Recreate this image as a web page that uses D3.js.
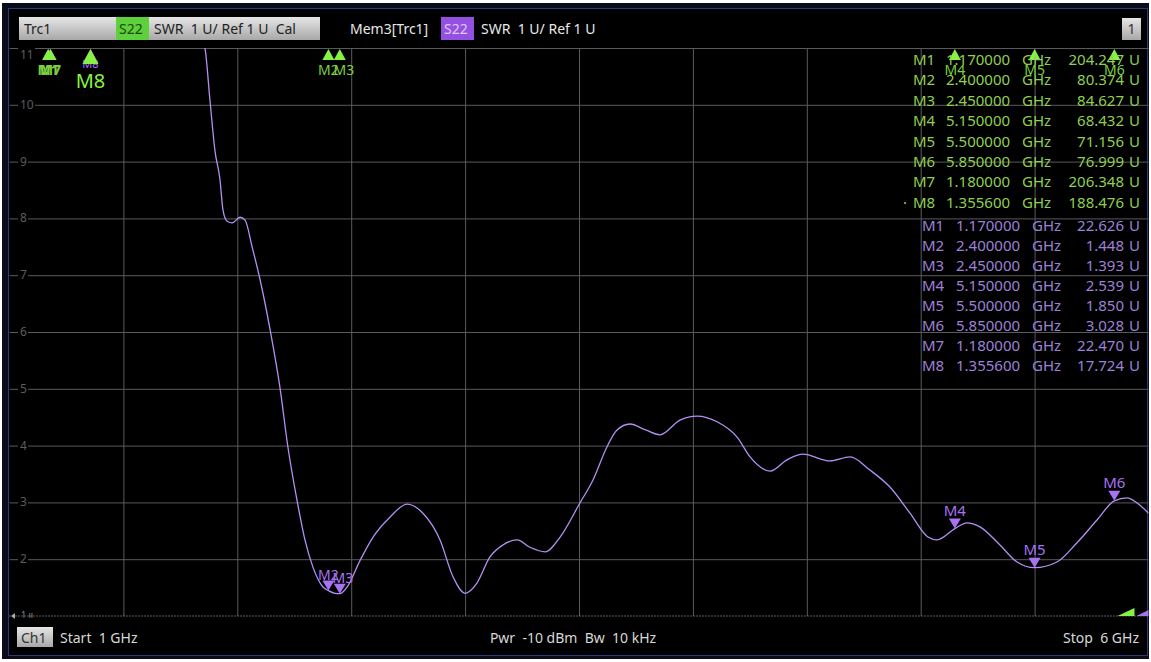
<!DOCTYPE html>
<html>
<head>
<meta charset="utf-8">
<script src="https://cdn.jsdelivr.net/npm/d3@7"></script>
<style>
body{margin:0;background:#fff;}
svg{display:block;font-family:"Noto Sans",sans-serif;}
</style>
</head>
<body>
<script>
var w = 1151, h = 662;

// Mem3[Trc1] trace, frequency in GHz and SWR in U
var freq = [1.000,1.100,1.170,1.180,1.250,1.356,1.450,1.550,1.650,1.750,1.858,1.880,1.902,1.924,1.937,1.955,1.977,2.012,2.034,2.065,2.100,2.144,2.187,2.222,2.262,2.297,2.332,2.376,2.400,2.429,2.450,2.482,2.539,2.596,2.670,2.745,2.815,2.890,2.947,3.000,3.052,3.109,3.166,3.228,3.285,3.351,3.417,3.504,3.561,3.623,3.666,3.724,3.790,3.856,3.943,4.018,4.106,4.194,4.251,4.339,4.413,4.483,4.602,4.690,4.777,4.865,4.953,5.032,5.072,5.150,5.203,5.260,5.348,5.423,5.500,5.598,5.686,5.774,5.850,5.906,5.950,6.000];
var swr = [23.5,23.2,22.63,22.47,20.5,17.72,16.0,14.5,13.3,12.1,11.0,10.08,9.19,8.68,8.15,7.95,7.92,8.02,7.97,7.50,6.92,6.04,5.03,3.98,3.04,2.34,1.86,1.51,1.448,1.40,1.393,1.51,1.98,2.39,2.74,2.97,2.81,2.34,1.69,1.40,1.58,2.04,2.25,2.34,2.21,2.13,2.39,2.99,3.39,3.98,4.27,4.38,4.28,4.19,4.45,4.52,4.42,4.15,3.80,3.55,3.75,3.85,3.73,3.80,3.57,3.27,2.81,2.39,2.34,2.539,2.64,2.57,2.25,1.95,1.850,1.95,2.29,2.69,3.028,3.08,2.99,2.81];

// marker table
var markerNames = ["M1","M2","M3","M4","M5","M6","M7","M8"];
var markerFreq = [1.17,2.4,2.45,5.15,5.5,5.85,1.18,1.3556];
var trcValues = ["204.247","80.374","84.627","68.432","71.156","76.999","206.348","188.476"];
var memValues = ["22.626","1.448","1.393","2.539","1.850","3.028","22.470","17.724"];

var yTicks = [2,3,4,5,6,7,8,9,10,11];
var xTicks = [1.5,2,2.5,3,3.5,4,4.5,5,5.5];

var green = "#8fcf52", greenMark = "#86f246", purple = "#9d80d8", purpleMark = "#a673f2";

window.onload = function(){

    var svg = d3.select("body").append("svg")
        .attr("width", w)
        .attr("height", h);

    var defs = svg.append("defs");
    var gray = defs.append("linearGradient").attr("id", "gray").attr("x1",0).attr("y1",0).attr("x2",0).attr("y2",1);
    gray.append("stop").attr("offset","0%").attr("stop-color","#e6e6e6");
    gray.append("stop").attr("offset","100%").attr("stop-color","#a8a8a8");

    // frame
    svg.append("rect").attr("x",2).attr("y",3).attr("width",1147).attr("height",656).style("fill","#0a0c1c");
    svg.append("rect").attr("x",8.5).attr("y",8.5).attr("width",1139).attr("height",647)
        .style("fill","#000").style("stroke","#2c3a7a");

    var x = d3.scaleLinear().domain([1,6]).range([9.5,1148.5]);
    var y = d3.scaleLinear().domain([1,11]).range([616,48]);

    defs.append("clipPath").attr("id","plot").append("rect")
        .attr("x", x(1)).attr("y", y(11)).attr("width", x(6)-x(1)).attr("height", y(1)-y(11));

    // header
    var head = svg.append("g").attr("class","header").style("font-size","14px");
    head.append("rect").attr("x",19).attr("y",17).attr("width",301).attr("height",23).style("fill","url(#gray)");
    head.append("text").attr("x",24).attr("y",34).style("fill","#222").text("Trc1");
    head.append("rect").attr("x",116).attr("y",17).attr("width",33).attr("height",23).style("fill","#5ed03c");
    head.append("text").attr("x",119).attr("y",34).style("fill","#1a4a10").text("S22");
    head.append("text").attr("x",154).attr("y",34).style("fill","#222").attr("xml:space","preserve").text("SWR  1 U/ Ref 1 U  Cal");
    head.append("text").attr("x",350).attr("y",34).style("fill","#e8e8e8").text("Mem3[Trc1]");
    head.append("rect").attr("x",441).attr("y",17).attr("width",33).attr("height",23).style("fill","#9450e0");
    head.append("text").attr("x",444).attr("y",34).style("fill","#e0c8ff").text("S22");
    head.append("text").attr("x",481).attr("y",34).style("fill","#e8e8e8").attr("xml:space","preserve").text("SWR  1 U/ Ref 1 U");
    head.append("rect").attr("x",1122).attr("y",18).attr("width",19).attr("height",22).style("fill","url(#gray)");
    head.append("text").attr("x",1131.5).attr("y",34).attr("text-anchor","middle").style("fill","#333").text("1");

    // grid
    var grid = svg.append("g").attr("class","grid");
    grid.append("g")
        .attr("transform","translate(" + x(1) + ",0)")
        .call(d3.axisLeft(y).tickValues(yTicks).tickSize(-(x(6)-x(1))).tickFormat(""))
        .call(function(g){ g.select(".domain").remove(); });
    grid.append("g")
        .attr("transform","translate(0," + y(1) + ")")
        .call(d3.axisBottom(x).tickValues(xTicks).tickSize(-(y(1)-y(11))).tickFormat(""))
        .call(function(g){ g.select(".domain").remove(); });
    grid.selectAll("line").style("stroke","#5a5a5a").style("stroke-width",1);

    // reference line at 1 U
    svg.append("line").attr("x1",x(1)).attr("x2",x(6)).attr("y1",y(1)).attr("y2",y(1))
        .style("stroke","#bbb").style("stroke-dasharray","1,2");

    // y labels
    var ylab = svg.append("g").attr("class","ylabels").style("font-size","12px");
    yTicks.forEach(function(t){
        var yy = t === 11 ? y(t) + 11 : y(t) + 4;
        ylab.append("rect").attr("x",18).attr("y",yy-11).attr("width",t >= 10 ? 17 : 10).attr("height",14).style("fill","#000");
        ylab.append("text").attr("x",20).attr("y",yy).style("fill","#5c5c5c").text(t);
    });
    ylab.append("path").attr("d","M11," + y(1) + "l4,-3v6z").style("fill","#aaa");
    ylab.append("text").attr("x",21).attr("y",y(1)+2).style("fill","#888").style("font-size","9px").text("1 ıı");

    // trace
    var trace = freq.map(function(f,i){ return [f, swr[i]]; });
    var line = d3.line()
        .x(function(d){ return x(d[0]); })
        .y(function(d){ return y(d[1]); })
        .curve(d3.curveMonotoneX);
    svg.append("path")
        .datum(trace)
        .attr("clip-path","url(#plot)")
        .attr("d", line)
        .style("fill","none")
        .style("stroke","#b390f2")
        .style("stroke-width",1.3);

    // off-scale markers at the top (memory M1, M7, M8 under the Trc1 ones)
    var top = svg.append("g").attr("class","topMarkers");
    [0,6,7].forEach(function(i){
        top.append("path").attr("d","M" + x(markerFreq[i]) + "," + (y(11)+1) + "l6,11h-12z").style("fill",purpleMark);
    });
    top.append("text").attr("x",x(markerFreq[7])).attr("y",y(11)+20).attr("text-anchor","middle")
        .style("fill",purpleMark).style("font-size","11px").text("M8");

    markerFreq.forEach(function(f,i){
        var big = i === 7;
        var s = big ? 8 : 6, hgt = big ? 15 : 11;
        top.append("path")
            .attr("d","M" + x(f) + "," + (y(11)+1) + "l" + s + "," + hgt + "h" + (-2*s) + "z")
            .style("fill",greenMark);
    });
    markerFreq.forEach(function(f,i){
        var big = i === 7;
        top.append("text")
            .attr("x", x(f) + (i === 2 ? 4 : 0))
            .attr("y", big ? y(11)+40 : y(11)+27)
            .attr("text-anchor","middle")
            .style("fill", big ? greenMark : "#7ad040")
            .style("font-size", big ? "20px" : "14px")
            .style("font-weight", i === 0 || i === 6 ? "bold" : "normal")
            .text(markerNames[i]);
    });

    // memory markers on the trace
    var onTrace = [1,2,3,4,5];
    var mm = svg.append("g").attr("class","memMarkers");
    onTrace.forEach(function(i){
        var px = x(markerFreq[i]), py = y(parseFloat(memValues[i]));
        mm.append("path").attr("d","M" + px + "," + py + "l-6,-10h12z").style("fill",purpleMark);
    });
    onTrace.forEach(function(i){
        var px = x(markerFreq[i]), py = y(parseFloat(memValues[i]));
        var close = i === 1 || i === 2;
        mm.append("text")
            .attr("x", px + (i === 2 ? 3 : 0))
            .attr("y", py - (close ? 11 : 13))
            .attr("text-anchor","middle")
            .style("fill", purpleMark)
            .style("font-size", close ? "14px" : "15px")
            .text(markerNames[i]);
    });

    // marker table
    var fmt = d3.format(".6f");
    var table = svg.append("g").attr("class","table").style("font-size","15px");
    markerNames.forEach(function(m,i){
        var yy = 65 + i * 20.4;
        if (i === 7) table.append("text").attr("x",903).attr("y",yy).style("fill",green).text("·");
        table.append("text").attr("x",913).attr("y",yy).style("fill",green).text(m);
        table.append("text").attr("x",946).attr("y",yy).style("fill",green).text(fmt(markerFreq[i]));
        table.append("text").attr("x",1022).attr("y",yy).style("fill",green).text("GHz");
        table.append("text").attr("x",1124).attr("y",yy).attr("text-anchor","end").style("fill",green).text(trcValues[i]);
        table.append("text").attr("x",1140).attr("y",yy).attr("text-anchor","end").style("fill",green).text("U");
    });
    markerNames.forEach(function(m,i){
        var yy = 231 + i * 20;
        table.append("text").attr("x",922).attr("y",yy).style("fill",purple).text(m);
        table.append("text").attr("x",956).attr("y",yy).style("fill",purple).text(fmt(markerFreq[i]));
        table.append("text").attr("x",1032).attr("y",yy).style("fill",purple).text("GHz");
        table.append("text").attr("x",1124).attr("y",yy).attr("text-anchor","end").style("fill",purple).text(memValues[i]);
        table.append("text").attr("x",1140).attr("y",yy).attr("text-anchor","end").style("fill",purple).text("U");
    });

    // reference position wedges at the right end
    svg.append("path").attr("d","M" + (x(6)-31) + "," + y(1) + "l17,-8v8z").style("fill",greenMark);
    svg.append("path").attr("d","M" + (x(6)-12) + "," + y(1) + "l12,-6v6z").style("fill",purpleMark);

    // bottom bar
    var foot = svg.append("g").attr("class","footer").style("font-size","14px");
    foot.append("rect").attr("x",17).attr("y",627).attr("width",36).attr("height",20).style("fill","url(#gray)");
    foot.append("text").attr("x",21).attr("y",643).style("fill","#333").text("Ch1");
    foot.append("text").attr("x",60).attr("y",643).style("fill","#d8d8d8").attr("xml:space","preserve").text("Start  1 GHz");
    foot.append("text").attr("x",573).attr("y",643).attr("text-anchor","middle").style("fill","#d8d8d8").attr("xml:space","preserve").text("Pwr  -10 dBm  Bw  10 kHz");
    foot.append("text").attr("x",1139).attr("y",643).attr("text-anchor","end").style("fill","#d8d8d8").attr("xml:space","preserve").text("Stop  6 GHz");
};
</script>
</body>
</html>
